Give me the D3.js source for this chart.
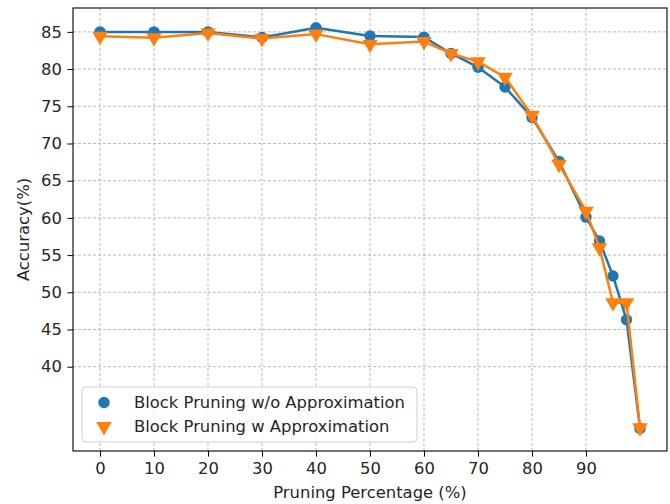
<!DOCTYPE html>
<html>
<head>
<meta charset="utf-8">
<script src="https://cdn.jsdelivr.net/npm/d3@7"></script>
<style>
  html, body { margin: 0; padding: 0; background: #fff; }
  svg { display: block; font-family: "DejaVu Sans", sans-serif; }
</style>
</head>
<body>
<svg id="chart" width="670" height="504"></svg>
<script>
// Pruning percentage (x) and accuracy (%) for the two block pruning variants
const pruning = [0, 10, 20, 30, 40, 50, 60, 65, 70, 75, 80, 85, 90, 92.5, 95, 97.5, 100];
const accNoApprox = [85.0, 85.0, 85.0, 84.25, 85.55, 84.45, 84.3, 82.1, 80.25, 77.6, 73.5, 67.6, 60.1, 56.9, 52.2, 46.3, 31.7];
const accApprox   = [84.4, 84.2, 84.85, 84.1, 84.7, 83.35, 83.7, 82.1, 81.0, 78.9, 73.8, 67.2, 60.9, 56.0, 48.6, 48.6, 31.8];
const xTicks = [0, 10, 20, 30, 40, 50, 60, 70, 80, 90];
const yTicks = [40, 45, 50, 55, 60, 65, 70, 75, 80, 85];
const seriesNames = ["Block Pruning w/o Approximation", "Block Pruning w Approximation"];
const xLabel = "Pruning Percentage (%)";
const yLabel = "Accuracy(%)";

const blue = "#1f77b4", orange = "#ff7f0e", textColor = "#262626";
const fontSize = 16.4;
const plot = { left: 73, right: 667, top: 8, bottom: 451 };

const svg = d3.select("#chart");
const x = d3.scaleLinear().domain([-5, 105]).range([plot.left, plot.right]);
const y = d3.scaleLinear().domain([28.67, 88.21]).range([plot.bottom, plot.top]);

// Dashed grid
const grid = svg.append("g").attr("stroke", "#adadad").attr("stroke-width", 0.85)
  .attr("stroke-dasharray", "3,2");
grid.selectAll("line.vx").data(xTicks).join("line")
  .attr("x1", d => x(d)).attr("x2", d => x(d))
  .attr("y1", plot.top).attr("y2", plot.bottom);
grid.selectAll("line.hy").data(yTicks).join("line")
  .attr("y1", d => y(d)).attr("y2", d => y(d))
  .attr("x1", plot.left).attr("x2", plot.right);

// Axes
const xAxis = svg.append("g").attr("transform", `translate(0,${plot.bottom})`)
  .call(d3.axisBottom(x).tickValues(xTicks).tickSize(5.6).tickPadding(5.6).tickFormat(d3.format("d")));
const yAxis = svg.append("g").attr("transform", `translate(${plot.left},0)`)
  .call(d3.axisLeft(y).tickValues(yTicks).tickSize(5.6).tickPadding(5.6).tickFormat(d3.format("d")));
[xAxis, yAxis].forEach(a => {
  a.select(".domain").remove();
  a.selectAll("line").attr("stroke", "#000").attr("stroke-width", 1);
  a.selectAll("text").attr("font-size", fontSize).attr("fill", textColor)
    .attr("font-family", "DejaVu Sans, sans-serif");
});

// Frame
svg.append("rect").attr("x", plot.left).attr("y", plot.top)
  .attr("width", plot.right - plot.left).attr("height", plot.bottom - plot.top)
  .attr("fill", "none").attr("stroke", "#000").attr("stroke-width", 1.1);

// Series lines and markers
const line = d3.line().x(d => x(d[0])).y(d => y(d[1]));
const tri = d3.symbol().type(d3.symbolTriangle).size(105);

function drawSeries(vals, color, marker) {
  const pts = pruning.map((p, i) => [p, vals[i]]);
  svg.append("path").datum(pts).attr("d", line)
    .attr("fill", "none").attr("stroke", color).attr("stroke-width", 2.5)
    .attr("stroke-linejoin", "round");
  const g = svg.append("g").attr("fill", color);
  if (marker === "circle") {
    g.selectAll("circle").data(pts).join("circle")
      .attr("cx", d => x(d[0])).attr("cy", d => y(d[1])).attr("r", 5.7);
  } else {
    g.selectAll("path").data(pts).join("path")
      .attr("d", tri)
      .attr("transform", d => `translate(${x(d[0])},${y(d[1])}) rotate(180)`);
  }
}
drawSeries(accNoApprox, blue, "circle");
drawSeries(accApprox, orange, "triangle");

// Axis labels
svg.append("text").attr("x", (plot.left + plot.right) / 2).attr("y", 498)
  .attr("text-anchor", "middle").attr("font-size", fontSize).attr("fill", textColor).text(xLabel);
svg.append("text").attr("transform", `translate(29,${(plot.top + plot.bottom) / 2}) rotate(-90)`)
  .attr("text-anchor", "middle").attr("font-size", fontSize).attr("fill", textColor).text(yLabel);

// Legend
const legend = svg.append("g");
legend.append("rect").attr("x", 82).attr("y", 387).attr("width", 335).attr("height", 55)
  .attr("rx", 4).attr("fill", "#fff").attr("fill-opacity", 0.8)
  .attr("stroke", "#d0d0d0").attr("stroke-width", 1);
const rows = [
  { name: seriesNames[0], color: blue, marker: "circle", cy: 402.5 },
  { name: seriesNames[1], color: orange, marker: "triangle", cy: 426.5 }
];
rows.forEach(r => {
  if (r.marker === "circle") {
    legend.append("circle").attr("cx", 104).attr("cy", r.cy).attr("r", 5.7).attr("fill", r.color);
  } else {
    legend.append("path").attr("d", tri).attr("fill", r.color)
      .attr("transform", `translate(104,${r.cy}) rotate(180)`);
  }
  legend.append("text").attr("x", 134).attr("y", r.cy).attr("dy", "0.36em")
    .attr("font-size", fontSize).attr("fill", textColor).text(r.name);
});
</script>
</body>
</html>
